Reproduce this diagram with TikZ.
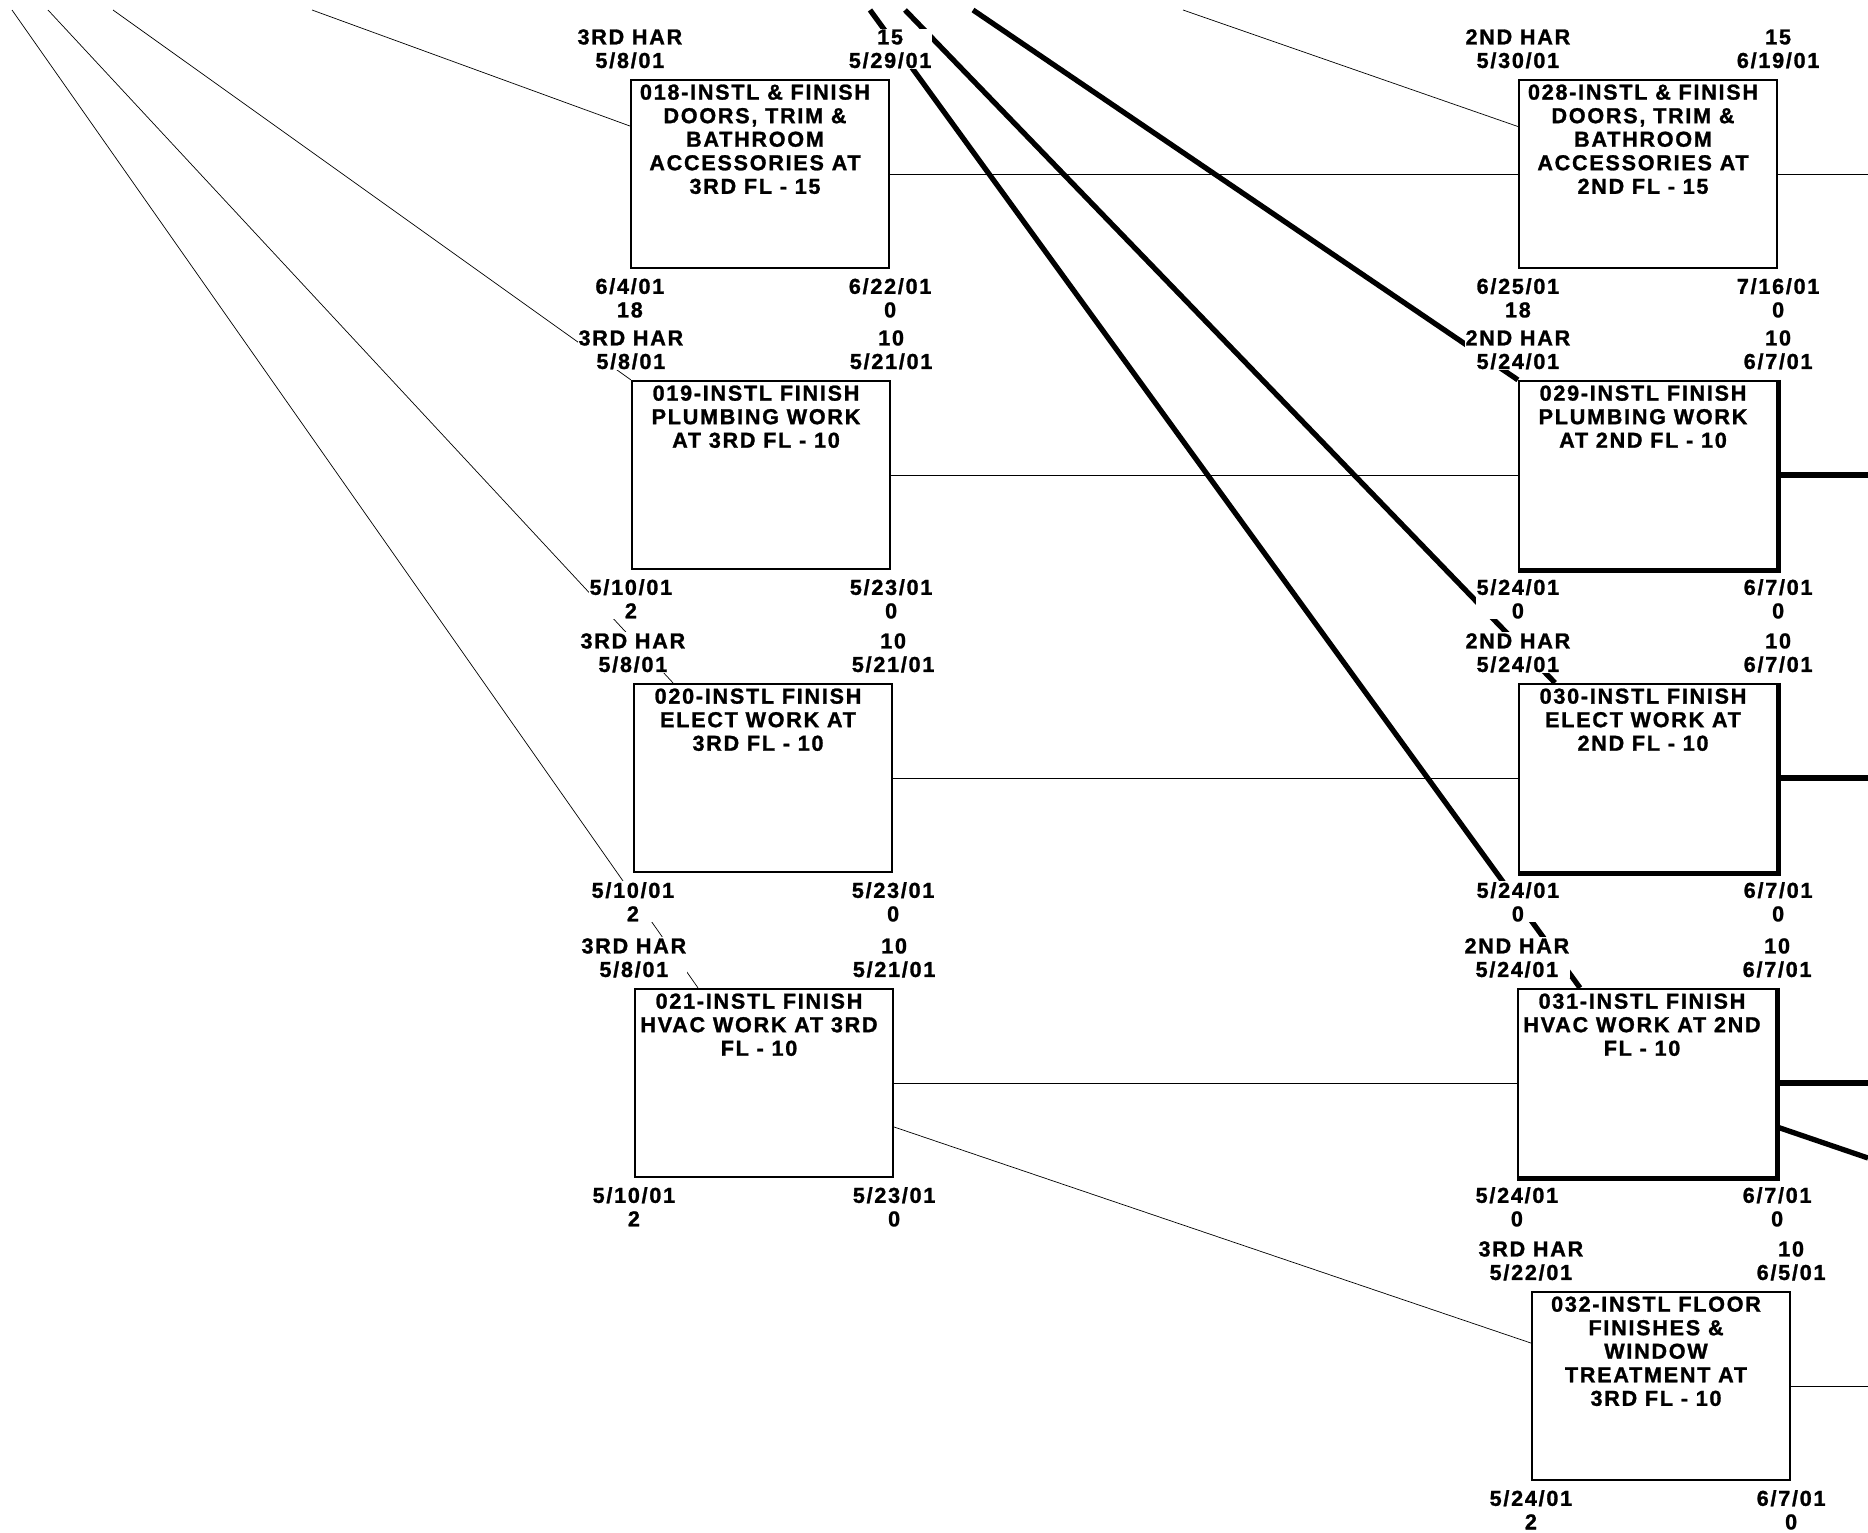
\documentclass[tikz,border=0pt]{standalone}
\usepackage{fontspec}
\usetikzlibrary{positioning, backgrounds}
\newfontfamily\netfont[LetterSpace=8, BoldFeatures={FakeBold=1.2}]{Liberation Sans}
\tikzset{
  every picture/.style={line width=1.3pt},
  task/.style={draw, fill=white, minimum width=5.16cm, minimum height=3.76cm, inner sep=0pt},
  desc/.style={font={\netfont\bfseries\fontsize{12.3}{13.4}\selectfont}, align=center, inner sep=0pt, below=0.09cm, xshift=-0.1cm},
  tagup/.style={font={\netfont\bfseries\fontsize{12.3}{13.4}\selectfont}, align=center, fill=white, inner sep=0.5pt, above=0.17cm},
  tagdn/.style={font={\netfont\bfseries\fontsize{12.3}{13.4}\selectfont}, align=center, fill=white, inner sep=0.5pt, below=0.14cm},
  crit/.style={line width=3pt},
}

\begin{document}
\begin{tikzpicture}[x=0.02cm, y=-0.02cm]
  \useasboundingbox (0,0) rectangle (1868,1532);
  \node[task] (t18) at (760,174) {};
  \node[task] (t19) at (761,475) {};
  \node[task] (t20) at (763,778) {};
  \node[task] (t21) at (764,1083) {};
  \node[task] (t28) at (1648,174) {};
  \node[task] (t29) at (1648,475) {};
  \node[task] (t30) at (1648,778) {};
  \node[task] (t31) at (1647,1083) {};
  \node[task] (t32) at (1661,1386) {};
  \draw[crit] (t29.north east) -- (t29.south east) -- (t29.south west);
  \draw[crit] (t30.north east) -- (t30.south east) -- (t30.south west);
  \draw[crit] (t31.north east) -- (t31.south east) -- (t31.south west);

  \node[desc] (d18) at (t18.north) {018-INSTL \& FINISH\\DOORS, TRIM \&\\BATHROOM\\ACCESSORIES AT\\3RD FL - 15};
  \node[desc] (d19) at (t19.north) {019-INSTL FINISH\\PLUMBING WORK\\AT 3RD FL - 10};
  \node[desc] (d20) at (t20.north) {020-INSTL FINISH\\ELECT WORK AT\\3RD FL - 10};
  \node[desc] (d21) at (t21.north) {021-INSTL FINISH\\HVAC WORK AT 3RD\\FL - 10};
  \node[desc] (d28) at (t28.north) {028-INSTL \& FINISH\\DOORS, TRIM \&\\BATHROOM\\ACCESSORIES AT\\2ND FL - 15};
  \node[desc] (d29) at (t29.north) {029-INSTL FINISH\\PLUMBING WORK\\AT 2ND FL - 10};
  \node[desc] (d30) at (t30.north) {030-INSTL FINISH\\ELECT WORK AT\\2ND FL - 10};
  \node[desc] (d31) at (t31.north) {031-INSTL FINISH\\HVAC WORK AT 2ND\\FL - 10};
  \node[desc] (d32) at (t32.north) {032-INSTL FLOOR\\FINISHES \&\\WINDOW\\TREATMENT AT\\3RD FL - 10};

  \coordinate (inA) at (312,10);
  \coordinate (inB) at (113,10);
  \coordinate (inC) at (48,10);
  \coordinate (inD) at (12,10);
  \coordinate (inE) at (870,10);
  \coordinate (inF) at (905,10);
  \coordinate (inG) at (973,10);
  \coordinate (inH) at (1183,10);
  \coordinate (edge) at (1868,0);
  \coordinate (o31) at (1868,1158);

  \begin{scope}[on background layer]
    \draw (inA) -- ([yshift=0.96cm]t18.west);
    \draw (inB) -- (t19.north west);
    \draw (inC) -- ([xshift=-1.8cm]t20.north);
    \draw (inD) -- ([xshift=-1.32cm]t21.north);
    \draw[crit] (inE) -- ([xshift=-1.34cm]t31.north);
    \draw[crit] (inF) -- ([xshift=-1.86cm]t30.north);
    \draw[crit] (inG) -- (t29.north west);
    \draw (inH) -- ([yshift=0.95cm]t28.west);
    \draw (t18) -- (t28);
    \draw (t19) -- (t29);
    \draw (t20) -- (t30);
    \draw (t21) -- (t31);
    \draw ([yshift=-0.88cm]t21.east) -- ([yshift=0.86cm]t32.west);
    \draw (t28.east) -- (t28.east -| edge);
    \draw[crit] (t29.east) -- (t29.east -| edge);
    \draw[crit] (t30.east) -- (t30.east -| edge);
    \draw[crit] (t31.east) -- (t31.east -| edge);
    \draw[crit] ([yshift=-0.88cm]t31.east) -- (o31);
    \draw (t32.east) -- (t32.east -| edge);
  \end{scope}

  \node[tagup] (es18) at (t18.north west) {3RD HAR\\5/8/01};
  \node[tagup] (ef18) at (t18.north east) {15\\5/29/01};
  \node[tagdn] (ls18) at (t18.south west) {6/4/01\\18};
  \node[tagdn] (lf18) at (t18.south east) {6/22/01\\0};
  \node[tagup] (es19) at (t19.north west) {3RD HAR\\5/8/01};
  \node[tagup] (ef19) at (t19.north east) {10\\5/21/01};
  \node[tagdn] (ls19) at (t19.south west) {5/10/01\\2};
  \node[tagdn] (lf19) at (t19.south east) {5/23/01\\0};
  \node[tagup] (es20) at (t20.north west) {3RD HAR\\5/8/01};
  \node[tagup] (ef20) at (t20.north east) {10\\5/21/01};
  \node[tagdn] (ls20) at (t20.south west) {5/10/01\\2};
  \node[tagdn] (lf20) at (t20.south east) {5/23/01\\0};
  \node[tagup] (es21) at (t21.north west) {3RD HAR\\5/8/01};
  \node[tagup] (ef21) at (t21.north east) {10\\5/21/01};
  \node[tagdn] (ls21) at (t21.south west) {5/10/01\\2};
  \node[tagdn] (lf21) at (t21.south east) {5/23/01\\0};
  \node[tagup] (es28) at (t28.north west) {2ND HAR\\5/30/01};
  \node[tagup] (ef28) at (t28.north east) {15\\6/19/01};
  \node[tagdn] (ls28) at (t28.south west) {6/25/01\\18};
  \node[tagdn] (lf28) at (t28.south east) {7/16/01\\0};
  \node[tagup] (es29) at (t29.north west) {2ND HAR\\5/24/01};
  \node[tagup] (ef29) at (t29.north east) {10\\6/7/01};
  \node[tagdn] (ls29) at (t29.south west) {5/24/01\\0};
  \node[tagdn] (lf29) at (t29.south east) {6/7/01\\0};
  \node[tagup] (es30) at (t30.north west) {2ND HAR\\5/24/01};
  \node[tagup] (ef30) at (t30.north east) {10\\6/7/01};
  \node[tagdn] (ls30) at (t30.south west) {5/24/01\\0};
  \node[tagdn] (lf30) at (t30.south east) {6/7/01\\0};
  \node[tagup] (es31) at (t31.north west) {2ND HAR\\5/24/01};
  \node[tagup] (ef31) at (t31.north east) {10\\6/7/01};
  \node[tagdn] (ls31) at (t31.south west) {5/24/01\\0};
  \node[tagdn] (lf31) at (t31.south east) {6/7/01\\0};
  \node[tagup] (es32) at (t32.north west) {3RD HAR\\5/22/01};
  \node[tagup] (ef32) at (t32.north east) {10\\6/5/01};
  \node[tagdn] (ls32) at (t32.south west) {5/24/01\\2};
  \node[tagdn] (lf32) at (t32.south east) {6/7/01\\0};
\end{tikzpicture}
\end{document}
